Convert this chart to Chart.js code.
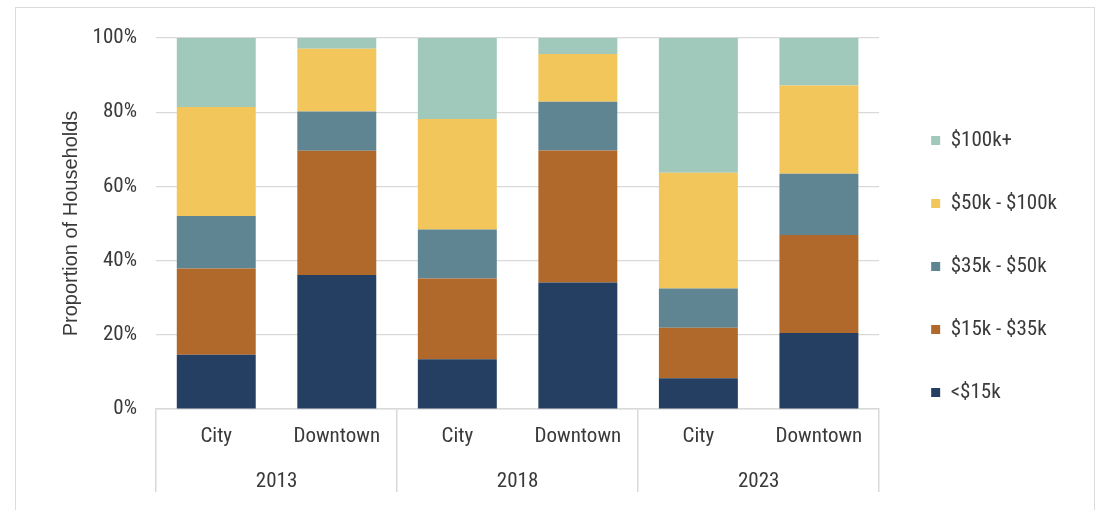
<!DOCTYPE html>
<html>
<head>
<meta charset="utf-8">
<script src="https://cdn.jsdelivr.net/npm/chart.js@4.4.1/dist/chart.umd.min.js"></script>
<style>
  html, body { margin: 0; padding: 0; background: #ffffff; overflow: hidden; }
  #wrap { position: relative; width: 1102px; height: 510px; }
  #frame { position: absolute; left: 15px; top: 7px; width: 1080px; height: 560px;
           border: 1.5px solid #dcdcdc; pointer-events: none; box-sizing: border-box; }
</style>
</head>
<body>
<div id="wrap">
  <canvas id="c" width="1102" height="510"></canvas>
  <div id="frame"></div>
</div>
<script>
// ---- data ----
const categories = ['City', 'Downtown', 'City', 'Downtown', 'City', 'Downtown'];
const years = ['2013', '2018', '2023'];
const seriesNames = ['<$15k', '$15k - $35k', '$35k - $50k', '$50k - $100k', '$100k+'];
const under15k   = [14.6, 36.1, 13.4, 34.1, 8.3, 20.5];
const k15to35    = [23.3, 33.5, 21.8, 35.6, 13.6, 26.4];
const k35to50    = [14.1, 10.6, 13.2, 13.1, 10.6, 16.5];
const k50to100   = [29.4, 16.9, 29.8, 12.9, 31.2, 23.8];
const over100k   = [18.6, 2.9, 21.8, 4.3, 36.3, 12.8];
const yTicks = [0, 20, 40, 60, 80, 100];
const colors = ['#243f61', '#b0692a', '#5f8592', '#f2c65a', '#a0c9bb'];

// ---- styling ----
const NARROW = "'Liberation Sans Narrow', 'Roboto Condensed', 'Arial Narrow', 'DejaVu Sans Condensed', 'Liberation Sans', sans-serif";
const REGULAR = "'Liberation Sans', Arial, sans-serif";
const TXT = '#3a3a3a';
const GRID = '#d9d9d9';

const seriesValues = [under15k, k15to35, k35to50, k50to100, over100k];
const datasets = seriesNames.map((n, i) => ({
  label: n,
  data: seriesValues[i],
  backgroundColor: colors[i],
  borderWidth: 0,
  categoryPercentage: 1.0,
  barPercentage: 0.655
}));

new Chart(document.getElementById('c'), {
  type: 'bar',
  data: { labels: categories, datasets },
  options: {
    responsive: false,
    animation: false,
    layout: { padding: { left: 50, top: 38, right: 45, bottom: 15 } },
    plugins: {
      tooltip: { enabled: false },
      legend: {
        position: 'right',
        reverse: true,
        align: 'center',
        labels: {
          boxWidth: 9, boxHeight: 9, padding: 42,
          color: TXT,
          font: { family: NARROW, size: 21 }
        }
      }
    },
    scales: {
      x: {
        stacked: true,
        position: 'bottom',
        weight: 0,
        grid: {
          offset: true,
          drawOnChartArea: false,
          drawTicks: true,
          tickLength: 83,
          lineWidth: 1.5,
          color: (ctx) => (ctx.index === undefined || ctx.index % 2 === 0) ? GRID : 'rgba(0,0,0,0)'
        },
        border: { display: true, color: GRID, width: 1.5 },
        ticks: {
          color: TXT, font: { family: NARROW, size: 21 },
          padding: -68, maxRotation: 0, autoSkip: false
        },
        afterFit: (s) => { s.height = 48; }
      },
      x2: {
        type: 'category',
        labels: years,
        offset: true,
        position: 'bottom',
        weight: 1,
        grid: { display: false },
        border: { display: false },
        ticks: {
          color: TXT, font: { family: NARROW, size: 21 },
          padding: 4, maxRotation: 0, autoSkip: false
        },
        afterFit: (s) => { s.height = 38; }
      },
      y: {
        stacked: true,
        min: 0, max: 100,
        afterBuildTicks: (s) => { s.ticks = yTicks.map(v => ({ value: v })); },
        grid: { color: GRID, lineWidth: 1.2, drawTicks: false },
        border: { display: false },
        ticks: {
          color: TXT, font: { family: NARROW, size: 21 }, padding: 19,
          callback: (v) => v + '%'
        },
        title: {
          display: true, text: 'Proportion of Households', color: TXT,
          font: { family: REGULAR, size: 20 }, padding: { top: 9, bottom: 0 }
        },
        afterFit: (s) => { s.width = 106; }
      },
      yR: {
        type: 'linear',
        position: 'right',
        display: true,
        grid: { display: false },
        border: { display: false },
        ticks: { display: false },
        afterFit: (s) => { s.width = 10; }
      }
    }
  }
});
</script>
</body>
</html>
